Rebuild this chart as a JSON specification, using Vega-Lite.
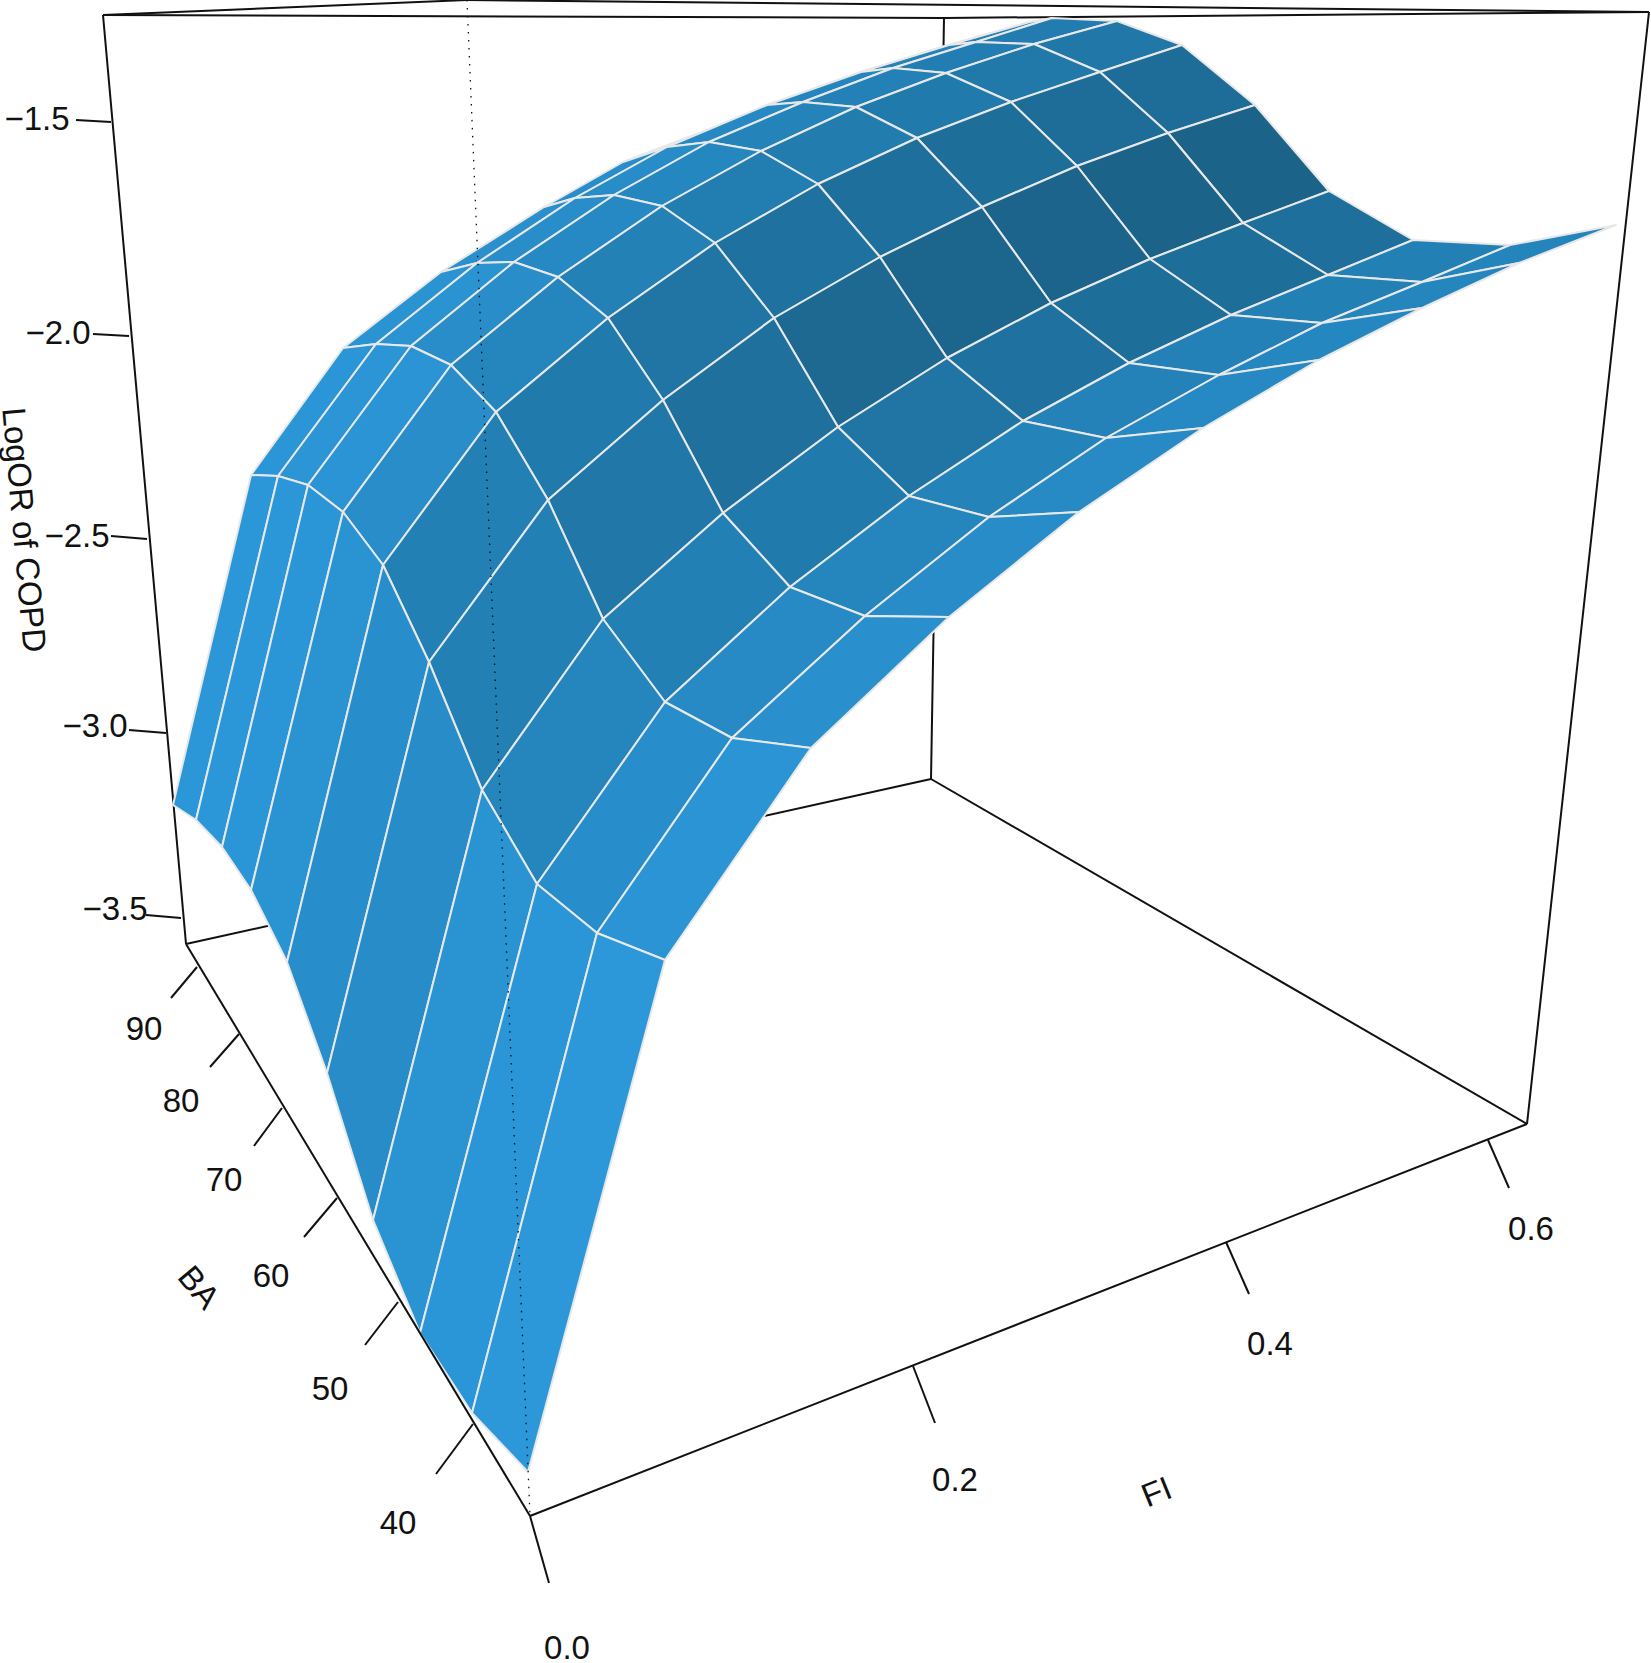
{"$schema":"https://vega.github.io/schema/vega-lite/v6.json","width":1651,"height":1663,"padding":0,"autosize":"none","background":"white",
"datasets":{
"cells":[
{"cell":88,"k":0,"x":949,"y":45,"shade":0.36},{"cell":88,"k":1,"x":1030,"y":22,"shade":0.36},{"cell":88,"k":2,"x":1009,"y":28,"shade":0.36},{"cell":88,"k":3,"x":925,"y":52,"shade":0.36},
{"cell":78,"k":0,"x":861,"y":72,"shade":0.32},{"cell":78,"k":1,"x":949,"y":45,"shade":0.32},{"cell":78,"k":2,"x":925,"y":52,"shade":0.32},{"cell":78,"k":3,"x":830,"y":85,"shade":0.32},
{"cell":68,"k":0,"x":767,"y":105,"shade":0.28},{"cell":68,"k":1,"x":861,"y":72,"shade":0.28},{"cell":68,"k":2,"x":830,"y":85,"shade":0.28},{"cell":68,"k":3,"x":728,"y":122,"shade":0.28},
{"cell":58,"k":0,"x":667,"y":147,"shade":0.22},{"cell":58,"k":1,"x":767,"y":105,"shade":0.22},{"cell":58,"k":2,"x":728,"y":122,"shade":0.22},{"cell":58,"k":3,"x":623,"y":162,"shade":0.22},
{"cell":48,"k":0,"x":575,"y":198,"shade":0.18},{"cell":48,"k":1,"x":667,"y":147,"shade":0.18},{"cell":48,"k":2,"x":623,"y":162,"shade":0.18},{"cell":48,"k":3,"x":544,"y":207,"shade":0.18},
{"cell":38,"k":0,"x":477,"y":263,"shade":0.15},{"cell":38,"k":1,"x":575,"y":198,"shade":0.15},{"cell":38,"k":2,"x":544,"y":207,"shade":0.15},{"cell":38,"k":3,"x":441,"y":272,"shade":0.15},
{"cell":28,"k":0,"x":376,"y":344,"shade":0.08},{"cell":28,"k":1,"x":477,"y":263,"shade":0.08},{"cell":28,"k":2,"x":441,"y":272,"shade":0.08},{"cell":28,"k":3,"x":343,"y":348,"shade":0.08},
{"cell":18,"k":0,"x":278,"y":476,"shade":0.03},{"cell":18,"k":1,"x":376,"y":344,"shade":0.03},{"cell":18,"k":2,"x":343,"y":348,"shade":0.03},{"cell":18,"k":3,"x":251,"y":475,"shade":0.03},
{"cell":8,"k":0,"x":196,"y":820,"shade":0.02},{"cell":8,"k":1,"x":278,"y":476,"shade":0.02},{"cell":8,"k":2,"x":251,"y":475,"shade":0.02},{"cell":8,"k":3,"x":173,"y":805,"shade":0.02},

{"cell":87,"k":0,"x":976,"y":42,"shade":0.42},{"cell":87,"k":1,"x":1052,"y":18,"shade":0.42},{"cell":87,"k":2,"x":1030,"y":22,"shade":0.42},{"cell":87,"k":3,"x":949,"y":45,"shade":0.42},
{"cell":77,"k":0,"x":893,"y":68,"shade":0.38},{"cell":77,"k":1,"x":976,"y":42,"shade":0.38},{"cell":77,"k":2,"x":949,"y":45,"shade":0.38},{"cell":77,"k":3,"x":861,"y":72,"shade":0.38},
{"cell":67,"k":0,"x":803,"y":102,"shade":0.34},{"cell":67,"k":1,"x":893,"y":68,"shade":0.34},{"cell":67,"k":2,"x":861,"y":72,"shade":0.34},{"cell":67,"k":3,"x":767,"y":105,"shade":0.34},
{"cell":57,"k":0,"x":709,"y":142,"shade":0.27},{"cell":57,"k":1,"x":803,"y":102,"shade":0.27},{"cell":57,"k":2,"x":767,"y":105,"shade":0.27},{"cell":57,"k":3,"x":667,"y":147,"shade":0.27},
{"cell":47,"k":0,"x":614,"y":195,"shade":0.23},{"cell":47,"k":1,"x":709,"y":142,"shade":0.23},{"cell":47,"k":2,"x":667,"y":147,"shade":0.23},{"cell":47,"k":3,"x":575,"y":198,"shade":0.23},
{"cell":37,"k":0,"x":514,"y":262,"shade":0.2},{"cell":37,"k":1,"x":614,"y":195,"shade":0.2},{"cell":37,"k":2,"x":575,"y":198,"shade":0.2},{"cell":37,"k":3,"x":477,"y":263,"shade":0.2},
{"cell":27,"k":0,"x":411,"y":346,"shade":0.1},{"cell":27,"k":1,"x":514,"y":262,"shade":0.1},{"cell":27,"k":2,"x":477,"y":263,"shade":0.1},{"cell":27,"k":3,"x":376,"y":344,"shade":0.1},
{"cell":17,"k":0,"x":308,"y":485,"shade":0.05},{"cell":17,"k":1,"x":411,"y":346,"shade":0.05},{"cell":17,"k":2,"x":376,"y":344,"shade":0.05},{"cell":17,"k":3,"x":278,"y":476,"shade":0.05},
{"cell":7,"k":0,"x":222,"y":847,"shade":0.02},{"cell":7,"k":1,"x":308,"y":485,"shade":0.02},{"cell":7,"k":2,"x":278,"y":476,"shade":0.02},{"cell":7,"k":3,"x":196,"y":820,"shade":0.02},

{"cell":86,"k":0,"x":1034,"y":44,"shade":0.52},{"cell":86,"k":1,"x":1117,"y":21,"shade":0.52},{"cell":86,"k":2,"x":1052,"y":18,"shade":0.52},{"cell":86,"k":3,"x":976,"y":42,"shade":0.52},
{"cell":76,"k":0,"x":946,"y":73,"shade":0.48},{"cell":76,"k":1,"x":1034,"y":44,"shade":0.48},{"cell":76,"k":2,"x":976,"y":42,"shade":0.48},{"cell":76,"k":3,"x":893,"y":68,"shade":0.48},
{"cell":66,"k":0,"x":856,"y":107,"shade":0.42},{"cell":66,"k":1,"x":946,"y":73,"shade":0.42},{"cell":66,"k":2,"x":893,"y":68,"shade":0.42},{"cell":66,"k":3,"x":803,"y":102,"shade":0.42},
{"cell":56,"k":0,"x":761,"y":151,"shade":0.38},{"cell":56,"k":1,"x":856,"y":107,"shade":0.38},{"cell":56,"k":2,"x":803,"y":102,"shade":0.38},{"cell":56,"k":3,"x":709,"y":142,"shade":0.38},
{"cell":46,"k":0,"x":662,"y":206,"shade":0.32},{"cell":46,"k":1,"x":761,"y":151,"shade":0.32},{"cell":46,"k":2,"x":709,"y":142,"shade":0.32},{"cell":46,"k":3,"x":614,"y":195,"shade":0.32},
{"cell":36,"k":0,"x":558,"y":277,"shade":0.27},{"cell":36,"k":1,"x":662,"y":206,"shade":0.27},{"cell":36,"k":2,"x":614,"y":195,"shade":0.27},{"cell":36,"k":3,"x":514,"y":262,"shade":0.27},
{"cell":26,"k":0,"x":451,"y":365,"shade":0.2},{"cell":26,"k":1,"x":558,"y":277,"shade":0.2},{"cell":26,"k":2,"x":514,"y":262,"shade":0.2},{"cell":26,"k":3,"x":411,"y":346,"shade":0.2},
{"cell":16,"k":0,"x":343,"y":512,"shade":0.07},{"cell":16,"k":1,"x":451,"y":365,"shade":0.07},{"cell":16,"k":2,"x":411,"y":346,"shade":0.07},{"cell":16,"k":3,"x":308,"y":485,"shade":0.07},
{"cell":6,"k":0,"x":251,"y":890,"shade":0.04},{"cell":6,"k":1,"x":343,"y":512,"shade":0.04},{"cell":6,"k":2,"x":308,"y":485,"shade":0.04},{"cell":6,"k":3,"x":222,"y":847,"shade":0.04},

{"cell":85,"k":0,"x":1100,"y":72,"shade":0.6},{"cell":85,"k":1,"x":1182,"y":45,"shade":0.6},{"cell":85,"k":2,"x":1117,"y":21,"shade":0.6},{"cell":85,"k":3,"x":1034,"y":44,"shade":0.6},
{"cell":75,"k":0,"x":1011,"y":102,"shade":0.58},{"cell":75,"k":1,"x":1100,"y":72,"shade":0.58},{"cell":75,"k":2,"x":1034,"y":44,"shade":0.58},{"cell":75,"k":3,"x":946,"y":73,"shade":0.58},
{"cell":65,"k":0,"x":917,"y":138,"shade":0.55},{"cell":65,"k":1,"x":1011,"y":102,"shade":0.55},{"cell":65,"k":2,"x":946,"y":73,"shade":0.55},{"cell":65,"k":3,"x":856,"y":107,"shade":0.55},
{"cell":55,"k":0,"x":818,"y":184,"shade":0.53},{"cell":55,"k":1,"x":917,"y":138,"shade":0.53},{"cell":55,"k":2,"x":856,"y":107,"shade":0.53},{"cell":55,"k":3,"x":761,"y":151,"shade":0.53},
{"cell":45,"k":0,"x":715,"y":243,"shade":0.5},{"cell":45,"k":1,"x":818,"y":184,"shade":0.5},{"cell":45,"k":2,"x":761,"y":151,"shade":0.5},{"cell":45,"k":3,"x":662,"y":206,"shade":0.5},
{"cell":35,"k":0,"x":608,"y":318,"shade":0.43},{"cell":35,"k":1,"x":715,"y":243,"shade":0.43},{"cell":35,"k":2,"x":662,"y":206,"shade":0.43},{"cell":35,"k":3,"x":558,"y":277,"shade":0.43},
{"cell":25,"k":0,"x":496,"y":412,"shade":0.35},{"cell":25,"k":1,"x":608,"y":318,"shade":0.35},{"cell":25,"k":2,"x":558,"y":277,"shade":0.35},{"cell":25,"k":3,"x":451,"y":365,"shade":0.35},
{"cell":15,"k":0,"x":383,"y":565,"shade":0.2},{"cell":15,"k":1,"x":496,"y":412,"shade":0.2},{"cell":15,"k":2,"x":451,"y":365,"shade":0.2},{"cell":15,"k":3,"x":343,"y":512,"shade":0.2},
{"cell":5,"k":0,"x":287,"y":962,"shade":0.08},{"cell":5,"k":1,"x":383,"y":565,"shade":0.08},{"cell":5,"k":2,"x":343,"y":512,"shade":0.08},{"cell":5,"k":3,"x":251,"y":890,"shade":0.08},

{"cell":84,"k":0,"x":1168,"y":133,"shade":0.8},{"cell":84,"k":1,"x":1255,"y":105,"shade":0.8},{"cell":84,"k":2,"x":1182,"y":45,"shade":0.8},{"cell":84,"k":3,"x":1100,"y":72,"shade":0.8},
{"cell":74,"k":0,"x":1077,"y":166,"shade":0.8},{"cell":74,"k":1,"x":1168,"y":133,"shade":0.8},{"cell":74,"k":2,"x":1100,"y":72,"shade":0.8},{"cell":74,"k":3,"x":1011,"y":102,"shade":0.8},
{"cell":64,"k":0,"x":982,"y":207,"shade":0.78},{"cell":64,"k":1,"x":1077,"y":166,"shade":0.78},{"cell":64,"k":2,"x":1011,"y":102,"shade":0.78},{"cell":64,"k":3,"x":917,"y":138,"shade":0.78},
{"cell":54,"k":0,"x":880,"y":257,"shade":0.76},{"cell":54,"k":1,"x":982,"y":207,"shade":0.76},{"cell":54,"k":2,"x":917,"y":138,"shade":0.76},{"cell":54,"k":3,"x":818,"y":184,"shade":0.76},
{"cell":44,"k":0,"x":774,"y":318,"shade":0.72},{"cell":44,"k":1,"x":880,"y":257,"shade":0.72},{"cell":44,"k":2,"x":818,"y":184,"shade":0.72},{"cell":44,"k":3,"x":715,"y":243,"shade":0.72},
{"cell":34,"k":0,"x":663,"y":400,"shade":0.65},{"cell":34,"k":1,"x":774,"y":318,"shade":0.65},{"cell":34,"k":2,"x":715,"y":243,"shade":0.65},{"cell":34,"k":3,"x":608,"y":318,"shade":0.65},
{"cell":24,"k":0,"x":548,"y":500,"shade":0.55},{"cell":24,"k":1,"x":663,"y":400,"shade":0.55},{"cell":24,"k":2,"x":608,"y":318,"shade":0.55},{"cell":24,"k":3,"x":496,"y":412,"shade":0.55},
{"cell":14,"k":0,"x":429,"y":662,"shade":0.45},{"cell":14,"k":1,"x":548,"y":500,"shade":0.45},{"cell":14,"k":2,"x":496,"y":412,"shade":0.45},{"cell":14,"k":3,"x":383,"y":565,"shade":0.45},
{"cell":4,"k":0,"x":327,"y":1073,"shade":0.18},{"cell":4,"k":1,"x":429,"y":662,"shade":0.18},{"cell":4,"k":2,"x":383,"y":565,"shade":0.18},{"cell":4,"k":3,"x":287,"y":962,"shade":0.18},

{"cell":83,"k":0,"x":1243,"y":223,"shade":1},{"cell":83,"k":1,"x":1329,"y":191,"shade":1},{"cell":83,"k":2,"x":1255,"y":105,"shade":1},{"cell":83,"k":3,"x":1168,"y":133,"shade":1},
{"cell":73,"k":0,"x":1150,"y":259,"shade":1},{"cell":73,"k":1,"x":1243,"y":223,"shade":1},{"cell":73,"k":2,"x":1168,"y":133,"shade":1},{"cell":73,"k":3,"x":1077,"y":166,"shade":1},
{"cell":63,"k":0,"x":1051,"y":303,"shade":0.98},{"cell":63,"k":1,"x":1150,"y":259,"shade":0.98},{"cell":63,"k":2,"x":1077,"y":166,"shade":0.98},{"cell":63,"k":3,"x":982,"y":207,"shade":0.98},
{"cell":53,"k":0,"x":947,"y":358,"shade":0.95},{"cell":53,"k":1,"x":1051,"y":303,"shade":0.95},{"cell":53,"k":2,"x":982,"y":207,"shade":0.95},{"cell":53,"k":3,"x":880,"y":257,"shade":0.95},
{"cell":43,"k":0,"x":838,"y":427,"shade":0.88},{"cell":43,"k":1,"x":947,"y":358,"shade":0.88},{"cell":43,"k":2,"x":880,"y":257,"shade":0.88},{"cell":43,"k":3,"x":774,"y":318,"shade":0.88},
{"cell":33,"k":0,"x":723,"y":513,"shade":0.75},{"cell":33,"k":1,"x":838,"y":427,"shade":0.75},{"cell":33,"k":2,"x":774,"y":318,"shade":0.75},{"cell":33,"k":3,"x":663,"y":400,"shade":0.75},
{"cell":23,"k":0,"x":603,"y":619,"shade":0.6},{"cell":23,"k":1,"x":723,"y":513,"shade":0.6},{"cell":23,"k":2,"x":663,"y":400,"shade":0.6},{"cell":23,"k":3,"x":548,"y":500,"shade":0.6},
{"cell":13,"k":0,"x":482,"y":790,"shade":0.45},{"cell":13,"k":1,"x":603,"y":619,"shade":0.45},{"cell":13,"k":2,"x":548,"y":500,"shade":0.45},{"cell":13,"k":3,"x":429,"y":662,"shade":0.45},
{"cell":3,"k":0,"x":373,"y":1220,"shade":0.22},{"cell":3,"k":1,"x":482,"y":790,"shade":0.22},{"cell":3,"k":2,"x":429,"y":662,"shade":0.22},{"cell":3,"k":3,"x":327,"y":1073,"shade":0.22},

{"cell":82,"k":0,"x":1328,"y":275,"shade":0.77},{"cell":82,"k":1,"x":1413,"y":240,"shade":0.77},{"cell":82,"k":2,"x":1329,"y":191,"shade":0.77},{"cell":82,"k":3,"x":1243,"y":223,"shade":0.77},
{"cell":72,"k":0,"x":1231,"y":315,"shade":0.78},{"cell":72,"k":1,"x":1328,"y":275,"shade":0.78},{"cell":72,"k":2,"x":1243,"y":223,"shade":0.78},{"cell":72,"k":3,"x":1150,"y":259,"shade":0.78},
{"cell":62,"k":0,"x":1129,"y":363,"shade":0.78},{"cell":62,"k":1,"x":1231,"y":315,"shade":0.78},{"cell":62,"k":2,"x":1150,"y":259,"shade":0.78},{"cell":62,"k":3,"x":1051,"y":303,"shade":0.78},
{"cell":52,"k":0,"x":1023,"y":421,"shade":0.72},{"cell":52,"k":1,"x":1129,"y":363,"shade":0.72},{"cell":52,"k":2,"x":1051,"y":303,"shade":0.72},{"cell":52,"k":3,"x":947,"y":358,"shade":0.72},
{"cell":42,"k":0,"x":909,"y":496,"shade":0.65},{"cell":42,"k":1,"x":1023,"y":421,"shade":0.65},{"cell":42,"k":2,"x":947,"y":358,"shade":0.65},{"cell":42,"k":3,"x":838,"y":427,"shade":0.65},
{"cell":32,"k":0,"x":790,"y":587,"shade":0.55},{"cell":32,"k":1,"x":909,"y":496,"shade":0.55},{"cell":32,"k":2,"x":838,"y":427,"shade":0.55},{"cell":32,"k":3,"x":723,"y":513,"shade":0.55},
{"cell":22,"k":0,"x":665,"y":702,"shade":0.45},{"cell":22,"k":1,"x":790,"y":587,"shade":0.45},{"cell":22,"k":2,"x":723,"y":513,"shade":0.45},{"cell":22,"k":3,"x":603,"y":619,"shade":0.45},
{"cell":12,"k":0,"x":537,"y":884,"shade":0.35},{"cell":12,"k":1,"x":665,"y":702,"shade":0.35},{"cell":12,"k":2,"x":603,"y":619,"shade":0.35},{"cell":12,"k":3,"x":482,"y":790,"shade":0.35},
{"cell":2,"k":0,"x":420,"y":1333,"shade":0.1},{"cell":2,"k":1,"x":537,"y":884,"shade":0.1},{"cell":2,"k":2,"x":482,"y":790,"shade":0.1},{"cell":2,"k":3,"x":373,"y":1220,"shade":0.1},

{"cell":81,"k":0,"x":1422,"y":282,"shade":0.45},{"cell":81,"k":1,"x":1510,"y":245,"shade":0.45},{"cell":81,"k":2,"x":1413,"y":240,"shade":0.45},{"cell":81,"k":3,"x":1328,"y":275,"shade":0.45},
{"cell":71,"k":0,"x":1322,"y":323,"shade":0.45},{"cell":71,"k":1,"x":1422,"y":282,"shade":0.45},{"cell":71,"k":2,"x":1328,"y":275,"shade":0.45},{"cell":71,"k":3,"x":1231,"y":315,"shade":0.45},
{"cell":61,"k":0,"x":1219,"y":375,"shade":0.42},{"cell":61,"k":1,"x":1322,"y":323,"shade":0.42},{"cell":61,"k":2,"x":1231,"y":315,"shade":0.42},{"cell":61,"k":3,"x":1129,"y":363,"shade":0.42},
{"cell":51,"k":0,"x":1106,"y":438,"shade":0.4},{"cell":51,"k":1,"x":1219,"y":375,"shade":0.4},{"cell":51,"k":2,"x":1129,"y":363,"shade":0.4},{"cell":51,"k":3,"x":1023,"y":421,"shade":0.4},
{"cell":41,"k":0,"x":989,"y":517,"shade":0.38},{"cell":41,"k":1,"x":1106,"y":438,"shade":0.38},{"cell":41,"k":2,"x":1023,"y":421,"shade":0.38},{"cell":41,"k":3,"x":909,"y":496,"shade":0.38},
{"cell":31,"k":0,"x":865,"y":616,"shade":0.33},{"cell":31,"k":1,"x":989,"y":517,"shade":0.33},{"cell":31,"k":2,"x":909,"y":496,"shade":0.33},{"cell":31,"k":3,"x":790,"y":587,"shade":0.33},
{"cell":21,"k":0,"x":732,"y":738,"shade":0.25},{"cell":21,"k":1,"x":865,"y":616,"shade":0.25},{"cell":21,"k":2,"x":790,"y":587,"shade":0.25},{"cell":21,"k":3,"x":665,"y":702,"shade":0.25},
{"cell":11,"k":0,"x":597,"y":933,"shade":0.18},{"cell":11,"k":1,"x":732,"y":738,"shade":0.18},{"cell":11,"k":2,"x":665,"y":702,"shade":0.18},{"cell":11,"k":3,"x":537,"y":884,"shade":0.18},
{"cell":1,"k":0,"x":472,"y":1413,"shade":0.03},{"cell":1,"k":1,"x":597,"y":933,"shade":0.03},{"cell":1,"k":2,"x":537,"y":884,"shade":0.03},{"cell":1,"k":3,"x":420,"y":1333,"shade":0.03},

{"cell":80,"k":0,"x":1519,"y":263,"shade":0.36},{"cell":80,"k":1,"x":1616,"y":225,"shade":0.36},{"cell":80,"k":2,"x":1510,"y":245,"shade":0.36},{"cell":80,"k":3,"x":1422,"y":282,"shade":0.36},
{"cell":70,"k":0,"x":1422,"y":308,"shade":0.35},{"cell":70,"k":1,"x":1519,"y":263,"shade":0.35},{"cell":70,"k":2,"x":1422,"y":282,"shade":0.35},{"cell":70,"k":3,"x":1322,"y":323,"shade":0.35},
{"cell":60,"k":0,"x":1319,"y":360,"shade":0.32},{"cell":60,"k":1,"x":1422,"y":308,"shade":0.32},{"cell":60,"k":2,"x":1322,"y":323,"shade":0.32},{"cell":60,"k":3,"x":1219,"y":375,"shade":0.32},
{"cell":50,"k":0,"x":1203,"y":428,"shade":0.28},{"cell":50,"k":1,"x":1319,"y":360,"shade":0.28},{"cell":50,"k":2,"x":1219,"y":375,"shade":0.28},{"cell":50,"k":3,"x":1106,"y":438,"shade":0.28},
{"cell":40,"k":0,"x":1079,"y":512,"shade":0.25},{"cell":40,"k":1,"x":1203,"y":428,"shade":0.25},{"cell":40,"k":2,"x":1106,"y":438,"shade":0.25},{"cell":40,"k":3,"x":989,"y":517,"shade":0.25},
{"cell":30,"k":0,"x":949,"y":617,"shade":0.22},{"cell":30,"k":1,"x":1079,"y":512,"shade":0.22},{"cell":30,"k":2,"x":989,"y":517,"shade":0.22},{"cell":30,"k":3,"x":865,"y":616,"shade":0.22},
{"cell":20,"k":0,"x":811,"y":748,"shade":0.15},{"cell":20,"k":1,"x":949,"y":617,"shade":0.15},{"cell":20,"k":2,"x":865,"y":616,"shade":0.15},{"cell":20,"k":3,"x":732,"y":738,"shade":0.15},
{"cell":10,"k":0,"x":665,"y":960,"shade":0.07},{"cell":10,"k":1,"x":811,"y":748,"shade":0.07},{"cell":10,"k":2,"x":732,"y":738,"shade":0.07},{"cell":10,"k":3,"x":597,"y":933,"shade":0.07},
{"cell":0,"k":0,"x":528,"y":1472,"shade":0},{"cell":0,"k":1,"x":665,"y":960,"shade":0},{"cell":0,"k":2,"x":597,"y":933,"shade":0},{"cell":0,"k":3,"x":472,"y":1413,"shade":0}
],
"backBox":[
{"edge":"a","k":0,"x":103,"y":15},{"edge":"a","k":1,"x":186,"y":944},
{"edge":"b","k":0,"x":1649,"y":12},{"edge":"b","k":1,"x":1527,"y":1124},
{"edge":"c","k":0,"x":944,"y":18},{"edge":"c","k":1,"x":931,"y":779},
{"edge":"d","k":0,"x":186,"y":944},{"edge":"d","k":1,"x":931,"y":779},
{"edge":"e","k":0,"x":931,"y":779},{"edge":"e","k":1,"x":1527,"y":1124},
{"edge":"f","k":0,"x":103,"y":15},{"edge":"f","k":1,"x":944,"y":18},
{"edge":"g","k":0,"x":944,"y":18},{"edge":"g","k":1,"x":1649,"y":12},
{"edge":"h","k":0,"x":103,"y":15},{"edge":"h","k":1,"x":467,"y":0},
{"edge":"i","k":0,"x":467,"y":0},{"edge":"i","k":1,"x":1649,"y":12}
],
"frontBox":[
{"edge":"ba","k":0,"x":186,"y":944},{"edge":"ba","k":1,"x":530,"y":1516},
{"edge":"fi","k":0,"x":530,"y":1516},{"edge":"fi","k":1,"x":1527,"y":1124},
{"edge":"t1","k":0,"x":111,"y":122},{"edge":"t1","k":1,"x":76,"y":120},
{"edge":"t2","k":0,"x":129,"y":336},{"edge":"t2","k":1,"x":93,"y":334},
{"edge":"t3","k":0,"x":147,"y":539},{"edge":"t3","k":1,"x":111,"y":536},
{"edge":"t4","k":0,"x":166,"y":733},{"edge":"t4","k":1,"x":129,"y":730},
{"edge":"t5","k":0,"x":181,"y":918},{"edge":"t5","k":1,"x":146,"y":915},
{"edge":"b9","k":0,"x":197,"y":967},{"edge":"b9","k":1,"x":171,"y":998},
{"edge":"b8","k":0,"x":239,"y":1034},{"edge":"b8","k":1,"x":210,"y":1067},
{"edge":"b7","k":0,"x":282,"y":1108},{"edge":"b7","k":1,"x":254,"y":1146},
{"edge":"b6","k":0,"x":337,"y":1198},{"edge":"b6","k":1,"x":304,"y":1237},
{"edge":"b5","k":0,"x":398,"y":1302},{"edge":"b5","k":1,"x":365,"y":1345},
{"edge":"b4","k":0,"x":473,"y":1424},{"edge":"b4","k":1,"x":436,"y":1474},
{"edge":"f0","k":0,"x":530,"y":1516},{"edge":"f0","k":1,"x":549,"y":1583},
{"edge":"f2","k":0,"x":913,"y":1366},{"edge":"f2","k":1,"x":935,"y":1423},
{"edge":"f4","k":0,"x":1226,"y":1242},{"edge":"f4","k":1,"x":1249,"y":1294},
{"edge":"f6","k":0,"x":1488,"y":1140},{"edge":"f6","k":1,"x":1509,"y":1188}
],
"dotted":[{"k":0,"x":467,"y":0},{"k":1,"x":530,"y":1516}],
"labels":[
{"label":"−1.5","x":37,"y":120},{"label":"−2.0","x":58,"y":334},{"label":"−2.5","x":77,"y":537},{"label":"−3.0","x":95,"y":727},{"label":"−3.5","x":115,"y":910},
{"label":"90","x":144,"y":1030},{"label":"80","x":181,"y":1102},{"label":"70","x":224,"y":1181},{"label":"60","x":271,"y":1277},{"label":"50","x":330,"y":1390},{"label":"40","x":398,"y":1524},
{"label":"0.0","x":567,"y":1649},{"label":"0.2","x":955,"y":1481},{"label":"0.4","x":1270,"y":1345},{"label":"0.6","x":1531,"y":1230}
]
},
"layer":[
{"data":{"name":"backBox"},"mark":{"type":"line","stroke":"#111111","strokeWidth":2},"encoding":{"x":{"field":"x","type":"quantitative","scale":{"domain":[0,1651]},"axis":null},"y":{"field":"y","type":"quantitative","scale":{"domain":[1663,0]},"axis":null},"detail":{"field":"edge"},"order":{"field":"k"}}},
{"data":{"name":"cells"},"mark":{"type":"line","interpolate":"linear-closed","stroke":"#e8e8e8","strokeWidth":2,"strokeJoin":"round"},"encoding":{"x":{"field":"x","type":"quantitative","scale":{"domain":[0,1651]},"axis":null},"y":{"field":"y","type":"quantitative","scale":{"domain":[1663,0]},"axis":null},"detail":{"field":"cell"},"order":{"field":"k"},"fill":{"field":"shade","type":"quantitative","scale":{"domain":[0,1],"range":["#2C98DA","#1C6389"]},"legend":null}}},
{"data":{"name":"frontBox"},"mark":{"type":"line","stroke":"#111111","strokeWidth":2},"encoding":{"x":{"field":"x","type":"quantitative","scale":{"domain":[0,1651]},"axis":null},"y":{"field":"y","type":"quantitative","scale":{"domain":[1663,0]},"axis":null},"detail":{"field":"edge"},"order":{"field":"k"}}},
{"data":{"name":"dotted"},"mark":{"type":"line","stroke":"#111111","strokeWidth":1.3,"strokeDash":[1.5,6.5]},"encoding":{"x":{"field":"x","type":"quantitative","scale":{"domain":[0,1651]},"axis":null},"y":{"field":"y","type":"quantitative","scale":{"domain":[1663,0]},"axis":null},"order":{"field":"k"}}},
{"data":{"name":"labels"},"mark":{"type":"text","font":"Liberation Sans","fontSize":33,"fill":"#111111","align":"center","baseline":"middle"},"encoding":{"x":{"field":"x","type":"quantitative","scale":{"domain":[0,1651]},"axis":null},"y":{"field":"y","type":"quantitative","scale":{"domain":[1663,0]},"axis":null},"text":{"field":"label"}}},
{"data":{"values":[{"label":"LogOR of COPD","x":23,"y":530}]},"mark":{"type":"text","font":"Liberation Sans","fontSize":33,"fill":"#111111","align":"center","baseline":"middle","angle":85},"encoding":{"x":{"field":"x","type":"quantitative","scale":{"domain":[0,1651]},"axis":null},"y":{"field":"y","type":"quantitative","scale":{"domain":[1663,0]},"axis":null},"text":{"field":"label"}}},
{"data":{"values":[{"label":"BA","x":198,"y":1288}]},"mark":{"type":"text","font":"Liberation Sans","fontSize":33,"fill":"#111111","align":"center","baseline":"middle","angle":50},"encoding":{"x":{"field":"x","type":"quantitative","scale":{"domain":[0,1651]},"axis":null},"y":{"field":"y","type":"quantitative","scale":{"domain":[1663,0]},"axis":null},"text":{"field":"label"}}},
{"data":{"values":[{"label":"FI","x":1157,"y":1493}]},"mark":{"type":"text","font":"Liberation Sans","fontSize":33,"fill":"#111111","align":"center","baseline":"middle","angle":-22},"encoding":{"x":{"field":"x","type":"quantitative","scale":{"domain":[0,1651]},"axis":null},"y":{"field":"y","type":"quantitative","scale":{"domain":[1663,0]},"axis":null},"text":{"field":"label"}}}
],
"config":{"view":{"stroke":null}}}
